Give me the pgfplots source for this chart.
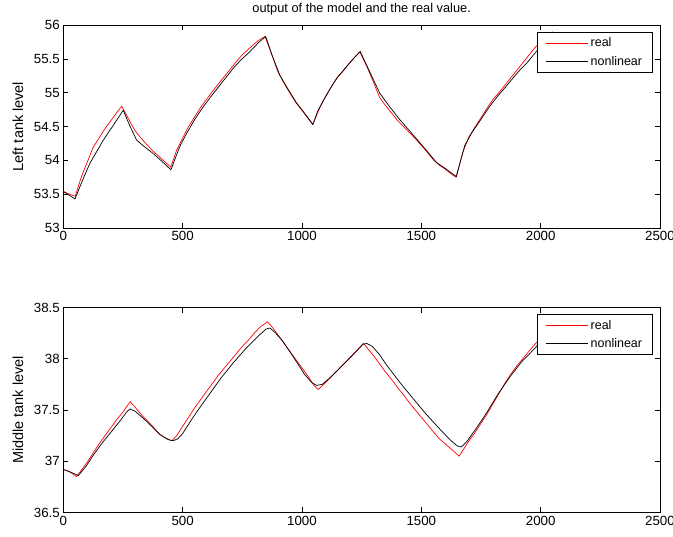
\documentclass[border=0pt]{standalone}
\usepackage{pgfplots}
\pgfplotsset{compat=1.18}
\usepackage{fontspec}
\setmainfont{Liberation Sans}

\pgfplotsset{
  mstyle/.style={
    scale only axis,
    width=596.7pt,
    xmin=0, xmax=2500,
    xtick={0,500,1000,1500,2000,2500},
    axis line style={black, line width=0.8pt},
    tick style={black, line width=0.6pt},
    major tick length=5pt,
    tick label style={font=\fontsize{13.3}{15}\selectfont},
    /pgf/number format/assume math mode=true,
    /pgf/number format/fixed,
    /pgf/number format/1000 sep={},
    scaled ticks=false,
    ylabel style={font=\fontsize{14.5}{16}\selectfont, at={(axis description cs:-0.076,0.5)}, anchor=center},
    legend style={at={(1,1)}, anchor=north east, xshift=-7pt, yshift=-7pt,
      draw=black, line width=0.8pt, font=\fontsize{12.5}{14}\selectfont,
      inner xsep=8.5pt, inner ysep=3.5pt, row sep=3.5pt,
      cells={anchor=west}},
    legend image code/.code={\draw[#1, line width=0.7pt] (0pt,0pt) -- (42pt,0pt);},
  },
  realline/.style={red, line width=0.7pt, mark=none},
  nlline/.style={black, line width=0.7pt, mark=none},
}

\begin{document}
\begin{tikzpicture}
\useasboundingbox (0pt,0pt) rectangle (673pt,-537pt);

\begin{axis}[mstyle,
  at={(63.3pt,-228pt)}, anchor=south west,
  height=203pt,
  ymin=53, ymax=56,
  ytick={53,53.5,54,54.5,55,55.5,56},
  ylabel={Left tank level},
  title={output of the model and the real value.},
  title style={font=\fontsize{12.8}{14}\selectfont, at={(0.5,1)}, anchor=south, yshift=0pt},
]
\addplot[realline] coordinates {
(0,53.54) (25,53.50) (50,53.47) (75,53.75) (100,53.97) (125,54.19) (150,54.33) (175,54.47)
(200,54.59) (225,54.71) (245,54.80) (275,54.60) (300,54.44) (325,54.33) (350,54.23) (375,54.14)
(400,54.06) (425,53.98) (450,53.90) (475,54.15) (500,54.33) (525,54.50) (550,54.64) (575,54.78)
(600,54.90) (625,55.02) (650,55.13) (675,55.24) (700,55.35) (725,55.46) (750,55.56) (775,55.64)
(800,55.72) (825,55.79) (845,55.83) (875,55.55) (900,55.30) (925,55.14) (950,54.99) (975,54.85)
(1000,54.74) (1025,54.62) (1045,54.53) (1075,54.78) (1100,54.95) (1125,55.10) (1150,55.23) (1175,55.33)
(1200,55.44) (1225,55.54) (1243,55.60) (1275,55.36) (1300,55.15) (1325,54.93) (1350,54.81) (1375,54.70)
(1400,54.59) (1425,54.50) (1450,54.41) (1475,54.32) (1500,54.22) (1525,54.12) (1550,54.01) (1575,53.93)
(1600,53.87) (1625,53.80) (1645,53.75) (1675,54.13) (1700,54.35) (1725,54.49) (1750,54.63) (1775,54.77)
(1800,54.90) (1825,55.00) (1850,55.11) (1875,55.22) (1900,55.33) (1925,55.44) (1950,55.55) (1975,55.66)
(2000,55.75) (2025,55.83) (2050,55.90)
};
\addlegendentry{real}
\addplot[nlline] coordinates {
(0,53.54) (49,53.43) (80,53.70) (112,53.96) (140,54.13) (168,54.30) (210,54.52) (251,54.74)
(280,54.50) (307,54.30) (340,54.20) (377,54.10) (415,53.98) (451,53.86) (468,54.02) (490,54.22)
(517,54.40) (550,54.60) (586,54.79) (620,54.95) (656,55.11) (685,55.24) (712,55.36) (740,55.47)
(780,55.60) (821,55.75) (848,55.83) (875,55.55) (907,55.26) (940,55.06) (977,54.85) (1010,54.70)
(1046,54.53) (1065,54.72) (1089,54.88) (1115,55.04) (1145,55.21) (1190,55.40) (1220,55.52) (1244,55.61)
(1285,55.30) (1326,54.99) (1370,54.78) (1410,54.60) (1450,54.44) (1494,54.26) (1530,54.11) (1563,53.97)
(1600,53.88) (1647,53.76) (1665,54.00) (1682,54.22) (1710,54.40) (1745,54.58) (1787,54.80) (1820,54.95)
(1857,55.10) (1885,55.22) (1912,55.33) (1945,55.45) (1975,55.58) (2010,55.72) (2050,55.85)
};
\addlegendentry{nonlinear}
\end{axis}

\begin{axis}[mstyle,
  at={(63.3pt,-512.5pt)}, anchor=south west,
  height=205pt,
  ymin=36.5, ymax=38.5,
  ytick={36.5,37,37.5,38,38.5},
  ylabel={Middle tank level},
]
\addplot[realline] coordinates {
(0,36.92) (25,36.90) (55,36.85) (75,36.91) (100,36.99) (125,37.08) (150,37.17) (175,37.25)
(200,37.33) (225,37.41) (250,37.48) (280,37.58) (300,37.53) (325,37.46) (350,37.40) (375,37.34)
(400,37.27) (425,37.23) (455,37.20) (475,37.25) (500,37.34) (525,37.43) (550,37.52) (575,37.60)
(600,37.68) (625,37.76) (650,37.84) (675,37.91) (700,37.98) (725,38.05) (750,38.12) (775,38.18)
(800,38.25) (825,38.31) (855,38.36) (875,38.31) (900,38.23) (925,38.15) (950,38.07) (975,37.99)
(1000,37.91) (1025,37.83) (1050,37.74) (1068,37.70) (1100,37.77) (1125,37.83) (1150,37.89) (1175,37.95)
(1200,38.01) (1225,38.07) (1258,38.15) (1275,38.10) (1300,38.03) (1325,37.95) (1350,37.87) (1375,37.80)
(1400,37.72) (1425,37.65) (1450,37.57) (1475,37.50) (1500,37.43) (1525,37.36) (1550,37.29) (1575,37.22)
(1600,37.17) (1625,37.12) (1658,37.05) (1675,37.11) (1700,37.20) (1725,37.28) (1750,37.37) (1775,37.46)
(1800,37.56) (1825,37.66) (1850,37.76) (1875,37.85) (1900,37.93) (1925,38.00) (1950,38.07) (1975,38.14)
(2000,38.20) (2025,38.26) (2050,38.32)
};
\addlegendentry{real}
\addplot[nlline] coordinates {
(0,36.92) (35,36.89) (63,36.86) (95,36.95) (126,37.06) (160,37.17) (195,37.27) (240,37.40)
(265,37.48) (279,37.51) (300,37.49) (349,37.39) (405,37.26) (440,37.21) (461,37.20) (480,37.22)
(500,37.27) (544,37.43) (580,37.55) (614,37.66) (660,37.81) (712,37.96) (765,38.10) (821,38.23)
(850,38.29) (866,38.30) (890,38.25) (920,38.17) (949,38.07) (980,37.96) (1010,37.85) (1040,37.77)
(1061,37.74) (1085,37.75) (1120,37.82) (1159,37.91) (1210,38.03) (1255,38.14) (1271,38.15) (1295,38.12)
(1325,38.04) (1354,37.94) (1410,37.77) (1466,37.61) (1520,37.46) (1575,37.32) (1620,37.21) (1650,37.15)
(1668,37.14) (1690,37.19) (1730,37.32) (1773,37.47) (1820,37.65) (1870,37.82) (1920,37.97) (1975,38.10)
(2010,38.19) (2050,38.30)
};
\addlegendentry{nonlinear}
\end{axis}
\end{tikzpicture}
\end{document}
